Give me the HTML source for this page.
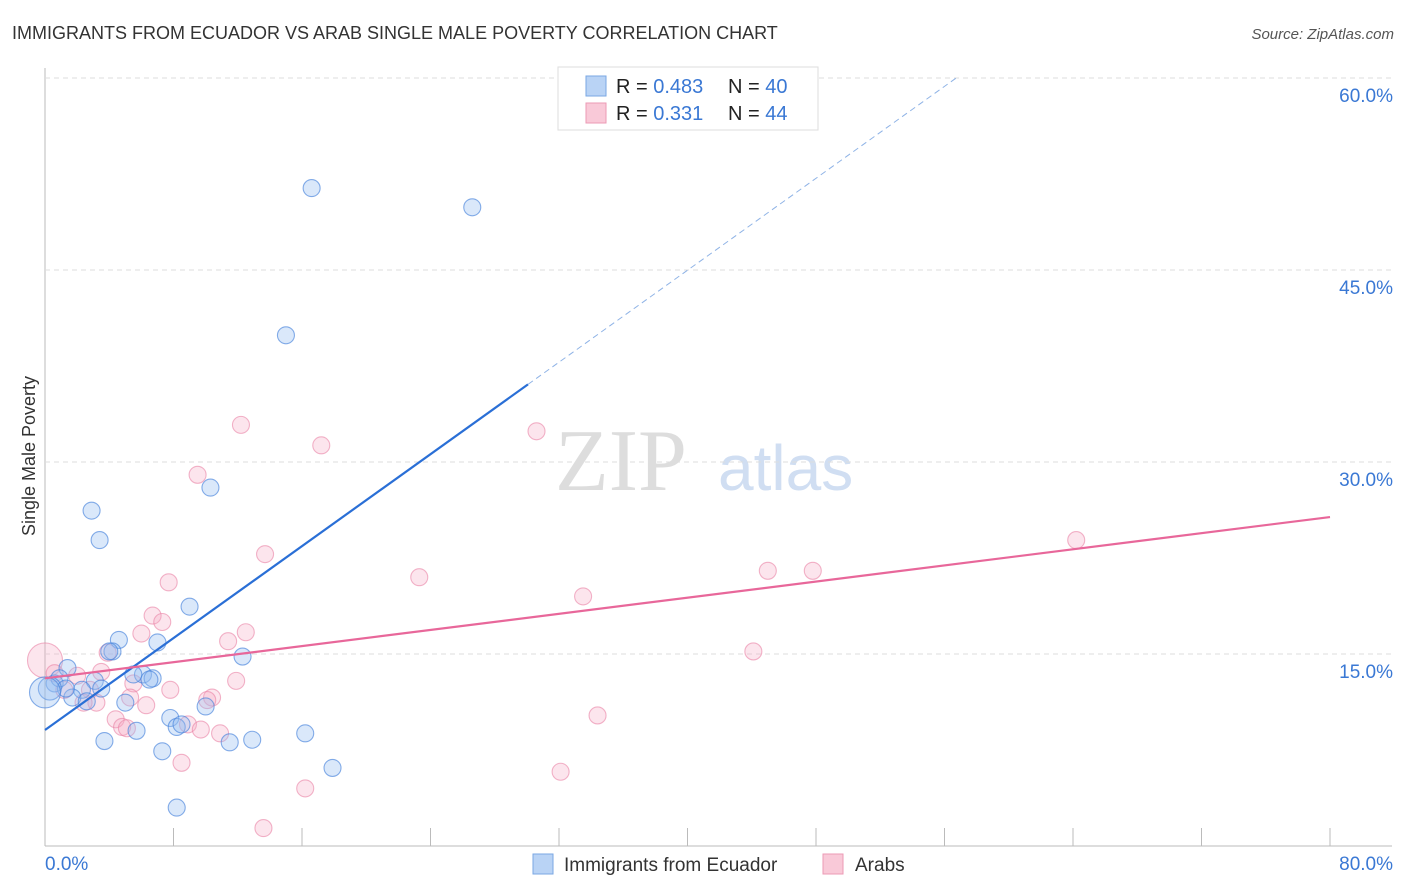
<!DOCTYPE html>
<html><head><meta charset="utf-8"><style>
body{margin:0;background:#fff;font-family:"Liberation Sans",sans-serif}
svg{display:block}
</style></head><body>
<svg id="chart" width="1406" height="892">
<text x="12" y="39" font-size="18" fill="#333">IMMIGRANTS FROM ECUADOR VS ARAB SINGLE MALE POVERTY CORRELATION CHART</text>
<text x="1394" y="39" font-size="15" fill="#555" font-style="italic" text-anchor="end">Source: ZipAtlas.com</text>
<text x="35" y="456" font-size="18" fill="#333" text-anchor="middle" transform="rotate(-90 35 456)">Single Male Poverty</text>
<text x="555" y="490" font-size="88" fill="#ddd" font-family="Liberation Serif,serif">ZIP</text>
<text x="718" y="490" font-size="64" fill="#d0def2">atlas</text>
<g id="grid"></g><g id="ticks"></g><g id="marks"></g>
<g>
<rect x="558" y="67" width="260" height="63" fill="#fff" stroke="#ddd"/>
<rect x="586" y="76" width="20" height="20" fill="#b9d3f5" stroke="#7aa7e3"/>
<rect x="586" y="103" width="20" height="20" fill="#f9c9d8" stroke="#ec9ab5"/>
<text x="616" y="93" font-size="20" fill="#222">R = <tspan fill="#3a78d4">0.483</tspan></text>
<text x="728" y="93" font-size="20" fill="#222">N = <tspan fill="#3a78d4">40</tspan></text>
<text x="616" y="120" font-size="20" fill="#222">R =  <tspan fill="#3a78d4">0.331</tspan></text>
<text x="728" y="120" font-size="20" fill="#222">N = <tspan fill="#3a78d4">44</tspan></text>
</g>
<g>
<rect x="533" y="854" width="20" height="20" fill="#b9d3f5" stroke="#7aa7e3"/>
<text x="564" y="871" font-size="19" fill="#333">Immigrants from Ecuador</text>
<rect x="823" y="854" width="20" height="20" fill="#f9c9d8" stroke="#ec9ab5"/>
<text x="855" y="871" font-size="19" fill="#333">Arabs</text>
</g>
</svg>
<script>
const yTicks=[15,30,45,60];
const xTickLabels=["0.0%","80.0%"];
const ecuadorX=[16.6,26.6,15.0,10.3,2.9,3.4,9.0,4.6,7.0,4.2,12.3,1.4,6.1,6.7,3.1,0.6,2.3,1.7,2.6,5.0,10.0,7.8,8.2,8.5,5.7,16.2,3.7,12.9,11.5,7.3,17.9,8.2,0.9,5.5,4.0,3.5,6.5,1.3,0.3,0];
const ecuadorY=[51.4,49.9,39.9,28.0,26.2,23.9,18.7,16.1,15.9,15.2,14.8,13.9,13.4,13.1,12.9,12.7,12.2,11.6,11.3,11.2,10.9,10.0,9.3,9.5,9.0,8.8,8.2,8.3,8.1,7.4,6.1,3.0,13.1,13.4,15.2,12.3,13.0,12.3,12.3,12.0];
const ecuadorR=[9,9,9,9,9,9,9,9,9,9,9,9,9,9,9,9,9,9,9,9,9,9,9,9,9,9,9,9,9,9,9,9,9,9,9,9,9,9,12,16];
const arabsX=[12.2,17.2,30.6,9.5,13.7,23.3,7.7,33.5,45.0,47.8,64.2,6.7,7.3,6.0,12.5,11.4,3.9,44.1,0,3.5,2.0,5.5,11.9,7.8,2.8,5.3,10.4,10.1,6.3,3.2,2.4,4.4,34.4,4.8,8.9,9.7,10.9,8.5,32.1,16.2,13.6,0.6,1.2,5.1];
const arabsY=[32.9,31.3,32.4,29.0,22.8,21.0,20.6,19.5,21.5,21.5,23.9,18.0,17.5,16.6,16.7,16.0,15.1,15.2,14.5,13.6,13.3,12.7,12.9,12.2,12.2,11.6,11.6,11.4,11.0,11.2,11.2,9.9,10.2,9.3,9.5,9.1,8.8,6.5,5.8,4.5,1.4,13.5,12.2,9.2];
const arabsR=[9,9,9,9,9,9,9,9,9,9,9,9,9,9,9,9,9,9,18,9,9,9,9,9,9,9,9,9,9,9,9,9,9,9,9,9,9,9,9,9,9,9,9,9];
const ecuadorTrend=[9.06,0.898];
const arabsTrend=[13.1,0.1575];
const X0=45,X1=1330,YB=846;
const sx=v=>X0+v*(X1-X0)/80, sy=v=>YB-v*12.8;
const NS="http://www.w3.org/2000/svg";
function mk(tag,attrs,parent){const e=document.createElementNS(NS,tag);for(const k in attrs)e.setAttribute(k,attrs[k]);document.getElementById(parent).appendChild(e);return e;}
let e=mk('line',{x1:X0,x2:X0,y1:68,y2:YB,stroke:'#bbb'},'grid');


e=mk('line',{x1:X0,x2:1392,y1:YB,y2:YB,stroke:'#bbb'},'grid');


yTicks.forEach(t=>{
 let g=mk('line',{x1:X0,x2:1392,y1:sy(t),y2:sy(t),stroke:'#ddd','stroke-dasharray':'5,4'},'grid');
 
 
 let l=mk('text',{x:1393,y:sy(t)+24,'font-size':19,fill:'#3a78d4','text-anchor':'end'},'ticks');l.textContent=t.toFixed(1)+'%';
 
 
});
for(let i=0;i<=10;i++){
 let t=mk('line',{x1:sx(i*8),x2:sx(i*8),y1:828,y2:YB,stroke:'#bbb'},'ticks');
 
 
}
let xl=mk('text',{x:45,y:870,'font-size':19,fill:'#3a78d4'},'ticks');xl.textContent=xTickLabels[0];


xl=mk('text',{x:1393,y:870,'font-size':19,fill:'#3a78d4','text-anchor':'end'},'ticks');xl.textContent=xTickLabels[1];


arabsX.forEach((v,i)=>{
 let c=mk('circle',{cx:sx(v),cy:sy(arabsY[i]),r:arabsR[i]-0.5,fill:'rgba(246,168,194,0.3)',stroke:'rgba(234,130,165,0.6)','stroke-width':1.1},'marks');
 
 
});
ecuadorX.forEach((v,i)=>{
 let c=mk('circle',{cx:sx(v),cy:sy(ecuadorY[i]),r:ecuadorR[i]-0.5,fill:'rgba(150,190,240,0.35)',stroke:'rgba(70,130,220,0.65)','stroke-width':1.1},'marks');
 
 
});
let tl=mk('line',{x1:sx(0),y1:sy(ecuadorTrend[0]),x2:sx(30.07),y2:sy(ecuadorTrend[0]+ecuadorTrend[1]*30.07),stroke:'#2a6fd6','stroke-width':2.2},'marks');


tl=mk('line',{x1:sx(30.07),y1:sy(ecuadorTrend[0]+ecuadorTrend[1]*30.07),x2:sx(56.8),y2:sy(ecuadorTrend[0]+ecuadorTrend[1]*56.8),stroke:'#8fb3e6','stroke-width':1,'stroke-dasharray':'6,4'},'marks');


tl=mk('line',{x1:sx(0),y1:sy(arabsTrend[0]),x2:sx(80),y2:sy(arabsTrend[0]+arabsTrend[1]*80),stroke:'#e8679a','stroke-width':2.2},'marks');


</script>
</body></html>
